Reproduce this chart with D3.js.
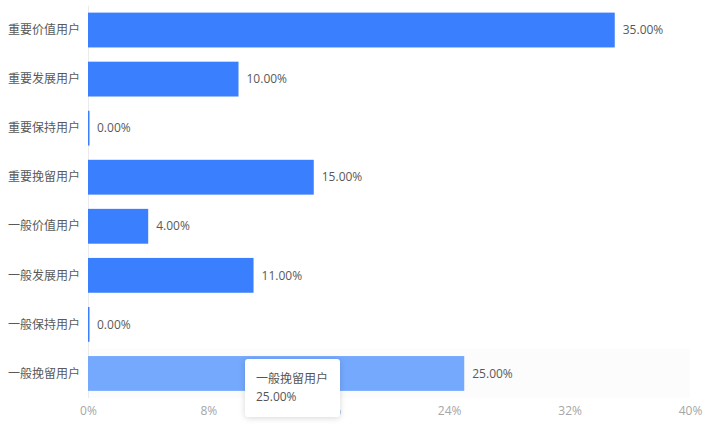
<!DOCTYPE html>
<html>
<head>
<meta charset="utf-8">
<script src="https://cdn.jsdelivr.net/npm/d3@7"></script>
<style>
  html, body { margin: 0; padding: 0; background: #fff; }
  body { width: 709px; height: 425px; position: relative; overflow: hidden; }
  .chart text { font-family: "Open Sans", "Noto Sans CJK SC", sans-serif; font-size: 12px; }
  .cat { font-family: "Noto Sans CJK SC", sans-serif !important; }
  .tip {
    position: absolute; z-index: 5; background: #fff; border-radius: 3px;
    box-shadow: 0 1px 6px rgba(0,0,0,0.16);
    font-family: "Open Sans", "Noto Sans CJK SC", sans-serif; font-size: 12px;
    color: #555; line-height: 18px; box-sizing: border-box;
    width: 95px; height: 58px; padding: 11px 10px 0 11px;
  }
</style>
</head>
<body>
<div class="chart"></div>
<script>
const categories = ["重要价值用户", "重要发展用户", "重要保持用户", "重要挽留用户",
  "一般价值用户", "一般发展用户", "一般保持用户", "一般挽留用户"];
const values = [35, 10, 0, 15, 4, 11, 0, 25];
const xTicks = [0, 8, 16, 24, 32, 40];
const active = "一般挽留用户";

const width = 709, height = 425;
const margin = { top: 5.5, right: 19, bottom: 27, left: 88 };

const svg = d3.select(".chart").append("svg")
  .attr("width", width)
  .attr("height", height);

const x = d3.scaleLinear().domain([0, 40]).range([margin.left, width - margin.right]);
const y = d3.scaleBand().domain(categories)
  .range([margin.top, height - margin.bottom])
  .paddingInner(0.29).paddingOuter(0.145);

// hover band
const band = d3.scaleBand().domain(categories).range([margin.top, height - margin.bottom]);
svg.append("rect")
  .attr("x", x(0))
  .attr("y", band(active))
  .attr("width", x(40) - x(0))
  .attr("height", band.bandwidth())
  .attr("fill", "#fcfcfc");

// y axis line
svg.append("line")
  .attr("x1", x(0) + 0.5).attr("x2", x(0) + 0.5)
  .attr("y1", margin.top).attr("y2", height - margin.bottom)
  .attr("stroke", "#ebebeb");

const data = categories.map((c, i) => ({ c, v: values[i] }));

svg.selectAll(".bar").data(data).join("rect")
  .attr("class", "bar")
  .attr("x", x(0))
  .attr("y", d => y(d.c))
  .attr("width", d => Math.max(x(d.v) - x(0), 1.5))
  .attr("height", y.bandwidth())
  .attr("fill", d => d.c === active ? "#75a9fe" : "#3a7ffe");

svg.selectAll(".val").data(data).join("text")
  .attr("class", "val")
  .attr("x", d => x(d.v) + (d.v === 0 ? 9 : 8))
  .attr("y", d => y(d.c) + y.bandwidth() / 2)
  .attr("dy", "0.35em")
  .attr("fill", "#595959")
  .text(d => d.v.toFixed(2) + "%");

svg.selectAll(".cat").data(categories).join("text")
  .attr("class", "cat")
  .attr("x", x(0) - 8)
  .attr("y", d => y(d) + y.bandwidth() / 2)
  .attr("dy", "0.35em")
  .attr("text-anchor", "end")
  .attr("fill", "#595959")
  .text(d => d);

const xAxis = svg.append("g")
  .attr("transform", "translate(0," + (height - margin.bottom) + ")")
  .call(d3.axisBottom(x).tickValues(xTicks).tickFormat(d => d + "%").tickSize(0).tickPadding(8));
xAxis.select(".domain").remove();
xAxis.selectAll("text").attr("fill", "#a6a6a6");

// tooltip
const d = data.find(e => e.c === active);
d3.select("body").append("div")
  .attr("class", "tip")
  .style("left", "245px")
  .style("top", "359px")
  .html(d.c + "<br>" + d.v.toFixed(2) + "%");
</script>
</body>
</html>
